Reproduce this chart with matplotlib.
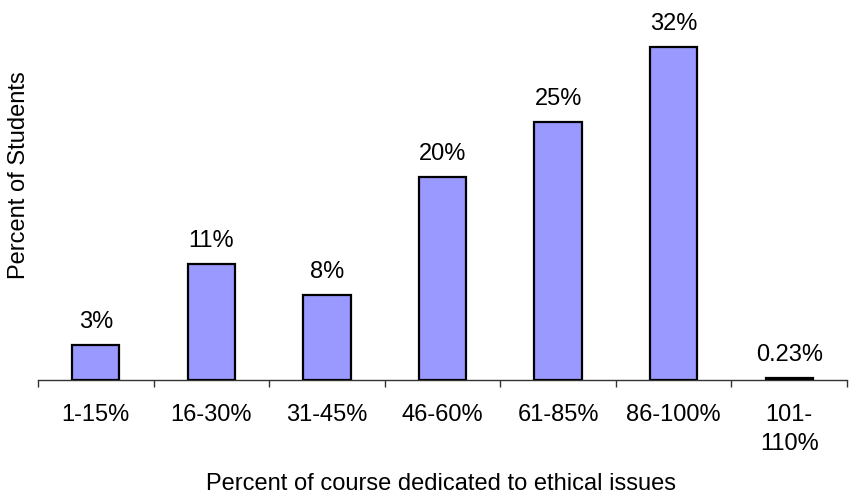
import matplotlib
matplotlib.use("Agg")
import matplotlib.pyplot as plt
import numpy as np

plt.rcParams['font.family'] = ['Liberation Sans', 'DejaVu Sans']

categories = ["1-15%", "16-30%", "31-45%", "46-60%", "61-85%", "86-100%", "101-\n110%"]
values = [3.4, 11.2, 8.2, 19.5, 24.8, 32.0, 0.23]
labels = ["3%", "11%", "8%", "20%", "25%", "32%", "0.23%"]

W, H = 849, 497
FS = 17
fig = plt.figure(figsize=(W/100, H/100), dpi=100)
ax = fig.add_axes([38/W, 1-380/H, (847-38)/W, 370/H])

x = np.arange(len(categories))
ax.bar(x, values, width=0.41, color="#9999FF", edgecolor="black", linewidth=1.6, zorder=3)
for xi, v, lab in zip(x, values, labels):
    ax.annotate(lab, (xi, v), xytext=(0, 12.2), textcoords="offset points",
                ha="center", va="baseline", fontsize=FS)

ax.set_xlim(-0.5, len(categories) - 0.5)
ax.set_ylim(0, 35.6)
for s in ["top", "right", "left"]:
    ax.spines[s].set_visible(False)
ax.spines["bottom"].set_color("#333333")
ax.spines["bottom"].set_linewidth(1.0)
ax.set_yticks([])
ax.set_xticks(np.arange(len(categories) + 1) - 0.5)
ax.set_xticklabels([])
ax.tick_params(axis="x", length=5, width=1.0, color="#333333", direction="out")

trans = ax.get_xaxis_transform()
for xi, c in zip(x, categories):
    for k, line in enumerate(c.split("\n")):
        y_px = 421 + 29 * k
        ax.text(xi, 1 - (y_px - 10) / 370, line, transform=trans,
                ha="center", va="baseline", fontsize=FS)

fig.text(25/W, 1-175/H, "Percent of Students", rotation=90, rotation_mode="anchor",
         ha="center", va="baseline", fontsize=FS)
fig.text(441/W, 1-490/H, "Percent of course dedicated to ethical issues",
         ha="center", va="baseline", fontsize=FS)

fig.savefig("out.png", dpi=100)
